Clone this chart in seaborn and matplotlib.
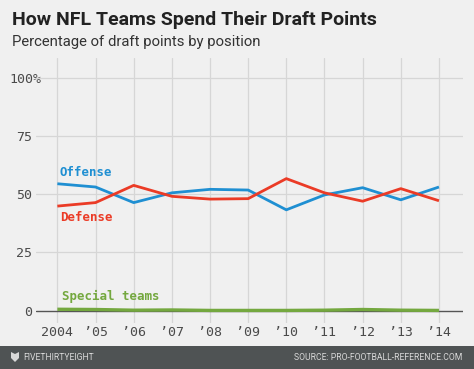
import matplotlib
matplotlib.use("Agg")
import matplotlib.pyplot as plt
import matplotlib.transforms as mtransforms
import seaborn as sns
import pandas as pd

years = [2004, 2005, 2006, 2007, 2008, 2009, 2010, 2011, 2012, 2013, 2014]
year_labels = ["2004", "\u201905", "\u201906", "\u201907", "\u201908", "\u201909",
               "\u201910", "\u201911", "\u201912", "\u201913", "\u201914"]
offense = [54.5, 53.1, 46.4, 50.6, 52.1, 51.8, 43.3, 49.7, 52.8, 47.6, 53.1]
defense = [44.9, 46.4, 53.8, 49.1, 47.9, 48.1, 56.7, 50.6, 47.0, 52.4, 47.2]
special = [0.6, 0.5, 0.2, 0.3, 0.1, 0.1, 0.1, 0.2, 0.5, 0.2, 0.1]
series_names = ["Offense", "Defense", "Special teams"]
colors = {"Offense": "#1f8fd2", "Defense": "#eb3b26", "Special teams": "#74a83f"}
y_ticks = [0, 25, 50, 75, 100]
y_tick_labels = ["0", "25", "50", "75", "100%"]

df = pd.DataFrame({
    "year": years * 3,
    "value": offense + defense + special,
    "series": ["Offense"] * len(years) + ["Defense"] * len(years) + ["Special teams"] * len(years),
})

BG = "#f0f0f0"
sns.set_theme(style="white")
plt.rcParams["font.family"] = ["DejaVu Sans"]

fig = plt.figure(figsize=(4.74, 3.69), dpi=100, facecolor=BG)
W, H = 474, 369
ax = fig.add_axes([36 / W, 1 - 323 / H, (463 - 36) / W, (323 - 58) / H])
ax.set_facecolor(BG)

sns.lineplot(data=df, x="year", y="value", hue="series", hue_order=series_names,
             palette=colors, linewidth=2.0, legend=False, ax=ax, zorder=3)
for line in ax.get_lines():
    line.set_solid_capstyle("butt")
ax.get_lines()[2].set_linewidth(2.4)

ax.set_xlim(2003.44, 2014.63)
ax.set_ylim(-5.3, 108.5)

# grid
for yt in y_ticks[1:]:
    ax.axhline(yt, color="#d6d6d6", lw=0.9, zorder=1)
for x in years:
    ax.axvline(x, color="#d6d6d6", lw=0.9, zorder=1)
ax.axhline(0, color="#555555", lw=1.0, zorder=2)

for s in ax.spines.values():
    s.set_visible(False)

mono = "DejaVu Sans Mono"
ax.set_xticks(years)
ax.set_xticklabels(year_labels, fontfamily=mono, fontsize=9.5, color="#4a4a4a")
ax.set_yticks(y_ticks)
ax.set_yticklabels(y_tick_labels, fontfamily=mono, fontsize=9.5, color="#4a4a4a")
ax.tick_params(axis="both", length=0)
ax.tick_params(axis="x", pad=2.5)
ax.tick_params(axis="y", pad=3)
ax.set_xlabel("")
ax.set_ylabel("")
# shift the "100%" label right so the % hangs over the gridline start
lab100 = ax.get_yticklabels()[-1]
lab100.set_transform(lab100.get_transform() +
                     mtransforms.ScaledTranslation(10 / 100, 0, fig.dpi_scale_trans))
lab100.set_bbox(dict(boxstyle="square,pad=0.2", fc=BG, ec="none"))
lab100.set_zorder(5)

# series labels
ax.text(2004.06, 59.3, "Offense", color=colors["Offense"], fontfamily=mono,
        fontweight="bold", fontsize=9, ha="left", va="center")
ax.text(2004.06, 39.8, "Defense", color=colors["Defense"], fontfamily=mono,
        fontweight="bold", fontsize=9, ha="left", va="center")
ax.text(2004.12, 6.3, "Special teams", color=colors["Special teams"], fontfamily=mono,
        fontweight="bold", fontsize=9, ha="left", va="center")

# titles
fig.text(12 / W, 1 - 20 / H, "How NFL Teams Spend Their Draft Points", fontfamily="Roboto",
         fontweight="bold", fontsize=14, color="#222222", ha="left", va="center")
fig.text(12 / W, 1 - 42 / H, "Percentage of draft points by position", fontfamily="Roboto",
         fontsize=10.7, color="#333333", ha="left", va="center")

# footer
fig.patches.append(plt.Rectangle((0, 0), 1, (H - 346) / H, transform=fig.transFigure,
                                 facecolor="#4f5354", edgecolor="none", zorder=0))
# small logo shape
logo = [(11, 352), (15, 354), (19, 352), (19, 358), (15, 362), (11, 358)]
fig.patches.append(plt.Polygon([(x / W, 1 - y / H) for x, y in logo], closed=True,
                               transform=fig.transFigure, facecolor="#d8d8d8",
                               edgecolor="none", zorder=1))
footer_font = "Roboto"
fig.text(23 / W, (H - 357.5) / H, "FIVETHIRTYEIGHT", fontfamily=footer_font, fontsize=6.2,
         color="#d8d8d8", ha="left", va="center")
fig.text(462 / W, (H - 357.5) / H, "SOURCE: PRO-FOOTBALL-REFERENCE.COM", fontfamily=footer_font,
         fontsize=6.2, color="#d8d8d8", ha="right", va="center")

fig.savefig("out.png", dpi=100, facecolor=BG)
